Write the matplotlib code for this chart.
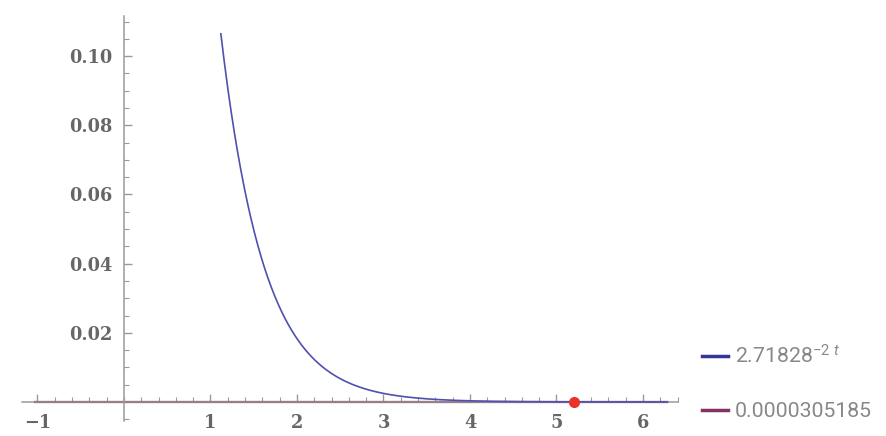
import numpy as np
import matplotlib
matplotlib.use("Agg")
import matplotlib.pyplot as plt
from matplotlib.ticker import MultipleLocator, FixedLocator

# function shown in the legend and the horizontal level
base = 2.71828
coef = -2
level = 0.0000305185
t_start, t_end = 1.12, 6.2832      # visible part of the curve
line_start, line_end = -1.03, 6.2832
cross_t = 5.1986                   # where curve meets the level

x_ticks = [-1, 1, 2, 3, 4, 5, 6]
y_ticks = [0.02, 0.04, 0.06, 0.08, 0.10]
y_tick_labels = ["0.02", "0.04", "0.06", "0.08", "0.10"]
legend_labels = [r"2.71828$^{-2\ t}$", "0.0000305185"]

plt.rcParams["mathtext.fontset"] = "custom"
plt.rcParams["mathtext.rm"] = "Roboto"
plt.rcParams["mathtext.it"] = "Roboto:italic"

fig = plt.figure(figsize=(8.86, 4.36), dpi=100)
ax = fig.add_axes([22 / 886, 1 - 421 / 436, 656 / 886, 405 / 436])

t = np.linspace(t_start, t_end, 400)
curve, = ax.plot(t, base ** (coef * t), color="#5050ae", lw=1.2, zorder=3)
flat, = ax.plot([line_start, line_end], [level, level], color="#7d2f5e", lw=1.6, zorder=2)
ax.plot([cross_t], [level], "o", color="#e8332a", ms=7, zorder=4, clip_on=False)

ax.set_xlim(-1.179, 6.405)
ax.set_ylim(-0.0055, 0.1116)

for s in ["top", "right"]:
    ax.spines[s].set_visible(False)
ax.spines["left"].set_position(("data", 0))
ax.spines["bottom"].set_position(("data", 0))
for s in ["left", "bottom"]:
    ax.spines[s].set_color("#9a9a9a")
    ax.spines[s].set_linewidth(1.1)

ax.xaxis.set_major_locator(FixedLocator(x_ticks))
ax.xaxis.set_minor_locator(MultipleLocator(0.2))
ax.set_xticklabels(["\u22121" if v < 0 else str(v) for v in x_ticks])
ax.yaxis.set_major_locator(FixedLocator(y_ticks))
ax.yaxis.set_minor_locator(MultipleLocator(0.005))
ax.set_yticklabels(y_tick_labels)

ax.tick_params(axis="x", which="major", direction="in", length=6, width=1, color="#9a9a9a", pad=9)
ax.tick_params(axis="x", which="minor", direction="in", length=3.5, width=0.8, color="#9a9a9a")
ax.tick_params(axis="y", which="major", direction="in", length=6, width=1, color="#9a9a9a", pad=8)
ax.tick_params(axis="y", which="minor", direction="in", length=3.5, width=0.8, color="#9a9a9a")
for lab in ax.get_xticklabels() + ax.get_yticklabels():
    lab.set_fontfamily("DejaVu Serif")
    lab.set_fontsize(12.8)
    lab.set_color("#666666")
    lab.set_fontweight("bold")

h1 = plt.Line2D([], [], color="#34349a", lw=2.5)
h2 = plt.Line2D([], [], color="#833264", lw=2.5)
fig.legend([h1, h2], legend_labels, loc="center left", bbox_to_anchor=(683 / 886, 1 - 383 / 436),
           frameon=False, handlelength=1.2, handletextpad=0.35, labelspacing=1.62,
           prop={"family": "Roboto", "size": 15.3}, labelcolor="#888888")

fig.savefig("out.png", dpi=100)
